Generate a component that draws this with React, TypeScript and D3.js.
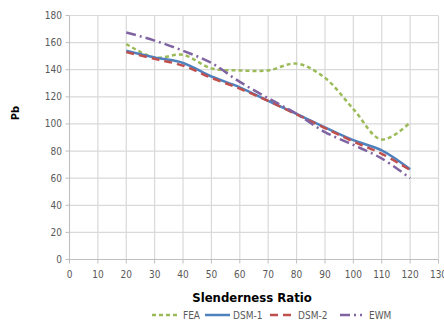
import React from 'react';
import * as d3 from 'd3';

const xValues = [20, 30, 40, 50, 60, 70, 80, 90, 100, 110, 120];
const feaValues = [159, 149, 151, 141, 139.5, 139.5, 144.5, 134, 111, 88.5, 101];
const dsm1Values = [154, 149, 145, 135, 127, 117, 107.5, 97.5, 88, 80.5, 66.5];
const dsm2Values = [153, 148, 143, 134, 126, 117, 107, 97, 87, 78, 66];
const ewmValues = [167.5, 161.5, 154, 145, 131, 119, 107.5, 94, 84.5, 74.5, 60];
const xTicks = [0, 10, 20, 30, 40, 50, 60, 70, 80, 90, 100, 110, 120, 130];
const yTicks = [0, 20, 40, 60, 80, 100, 120, 140, 160, 180];

const seriesNames = ['FEA', 'DSM-1', 'DSM-2', 'EWM'];
const seriesValues = [feaValues, dsm1Values, dsm2Values, ewmValues];
const seriesColors = ['#9bbb59', '#4f81bd', '#c0504d', '#8064a2'];
const seriesDash = ['4,3', null, '8,5', '10,4,2,4'];

const W = 444;
const H = 324;
const font = '"Liberation Sans Narrow", "DejaVu Sans Condensed", Arial, sans-serif';

export default function App() {
  const x = d3.scaleLinear().domain([0, 130]).range([69.5, 438.5]);
  const y = d3.scaleLinear().domain([0, 180]).range([259.5, 15.5]);

  const line = d3
    .line<number>()
    .x((_, i) => x(xValues[i]))
    .y((d) => y(d))
    .curve(d3.curveCatmullRom.alpha(0.5));

  // legend items: line start, line end, text start
  const legendPos = [
    [152, 180, 183],
    [205, 230, 233],
    [270, 296, 298],
    [340, 362, 369],
  ];

  return (
    <svg
      width={W}
      height={H}
      style={{ position: 'absolute', left: 0, top: 0, background: '#fff' }}
    >
      {/* gridlines */}
      {xTicks.map((t) => (
        <line key={'gx' + t} x1={x(t)} x2={x(t)} y1={y(180)} y2={y(0)} stroke="#d9d9d9" strokeWidth={1.2} />
      ))}
      {yTicks.map((t) => (
        <line key={'gy' + t} x1={x(0)} x2={x(130)} y1={y(t)} y2={y(t)} stroke="#d9d9d9" strokeWidth={1.2} />
      ))}
      {/* axes */}
      <line x1={x(0)} x2={x(0)} y1={y(180)} y2={y(0)} stroke="#bfbfbf" />
      <line x1={x(0)} x2={x(130)} y1={y(0)} y2={y(0)} stroke="#bfbfbf" />
      {yTicks.map((t) => (
        <g key={'ty' + t}>
          <line x1={x(0) - 4} x2={x(0)} y1={y(t)} y2={y(t)} stroke="#bfbfbf" />
          <text x={62} y={y(t) + 3.5} textAnchor="end" fontSize={10} fill="#595959" fontFamily={font}>
            {t}
          </text>
        </g>
      ))}
      {xTicks.map((t) => (
        <g key={'tx' + t}>
          <line x1={x(t)} x2={x(t)} y1={y(0)} y2={y(0) + 4} stroke="#bfbfbf" />
          <text x={x(t)} y={y(0) + 18} textAnchor="middle" fontSize={10} fill="#595959" fontFamily={font}>
            {t}
          </text>
        </g>
      ))}
      {/* axis titles */}
      <text
        transform={`translate(19,${113}) rotate(-90)`}
        textAnchor="middle"
        fontSize={11}
        fontWeight="bold"
        fill="#000"
        fontFamily={font}
      >
        Pb
      </text>
      <text x={252} y={302} textAnchor="middle" fontSize={13} fontWeight="bold" fill="#000" fontFamily={font}>
        Slenderness Ratio
      </text>
      {/* series */}
      {seriesValues.map((vals, i) => (
        <path
          key={seriesNames[i]}
          d={line(vals) || ''}
          fill="none"
          stroke={seriesColors[i]}
          strokeWidth={2.5}
          strokeDasharray={seriesDash[i] || undefined}
        />
      ))}
      {/* legend */}
      {seriesNames.map((name, i) => (
        <g key={'lg' + name}>
          <line
            x1={legendPos[i][0]}
            x2={legendPos[i][1]}
            y1={315}
            y2={315}
            stroke={seriesColors[i]}
            strokeWidth={2.5}
            strokeDasharray={seriesDash[i] || undefined}
          />
          <text x={legendPos[i][2]} y={318.5} fontSize={10} fill="#595959" fontFamily={font}>
            {name}
          </text>
        </g>
      ))}
    </svg>
  );
}
